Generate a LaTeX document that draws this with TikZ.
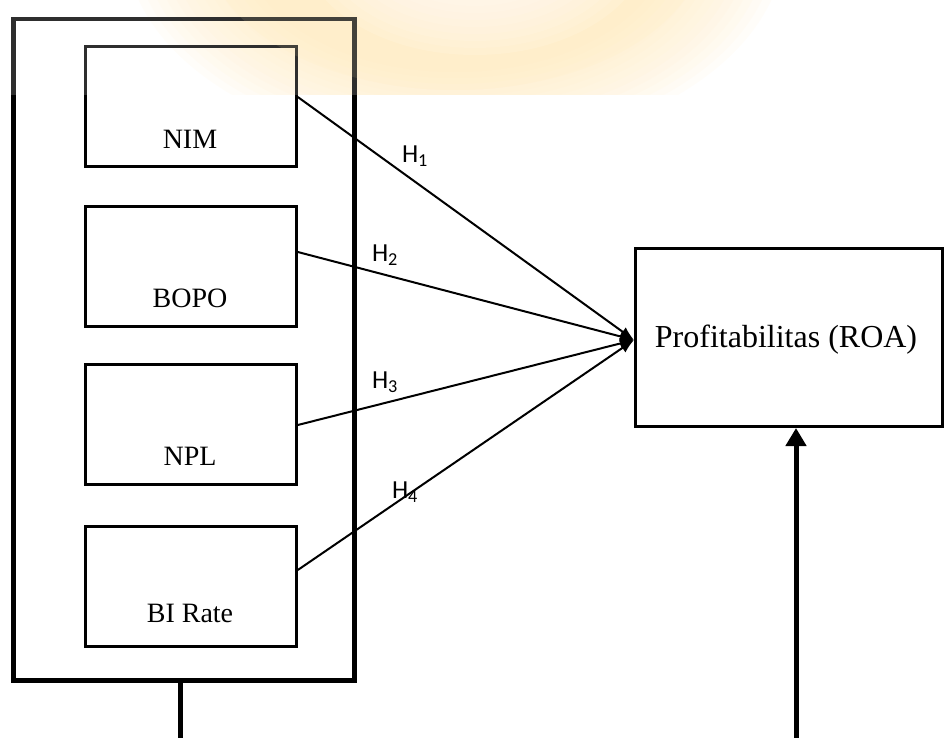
\documentclass[tikz,border=0pt]{standalone}
\usepackage{fontspec}
\setmainfont{Liberation Serif}
\newfontfamily\calfont{Carlito}
\usetikzlibrary{arrows.meta}
\definecolor{glowcol}{HTML}{FFEAB0}
\tikzset{
  inbox/.style={draw, line width=2.8pt, minimum width=211pt, minimum height=120pt, inner sep=0pt, anchor=north west},
  outerbox/.style={draw, line width=4.5pt, minimum width=341pt, minimum height=661pt, inner sep=0pt, anchor=north west},
  roabox/.style={draw, line width=3pt, minimum width=307pt, minimum height=178pt, inner sep=0pt, anchor=north west},
  lbl/.style={font=\fontsize{28}{32}\selectfont, inner sep=0pt},
  hlbl/.style={font=\calfont\fontsize{26}{30}\selectfont, inner sep=0pt},
  conn/.style={line width=2pt, -{Latex[length=14pt,width=11pt]}},
  thick5/.style={line width=5pt}
}
\begin{document}
\begin{tikzpicture}[x=1pt,y=-1pt]
\useasboundingbox (0,0) rectangle (945,738);
\fill[white] (0,0) rectangle (945,738);
% watermark glow
\begin{scope}
\clip (0,0) rectangle (945,95);
\foreach \k in {0,...,13}{
  \fill[glowcol, opacity=0.08] (455,-60) ellipse [x radius={330-9*\k}, y radius={210-6*\k}];
}
\foreach \k in {0,...,7}{
  \fill[white, opacity=0.13] (475,-60) ellipse [x radius={175-10*\k}, y radius={115-7*\k}];
}
\end{scope}
% boxes
\node[outerbox] (outer) at (11,17) {};
\node[inbox] (nim) at (84,45) {};
\node[inbox] (bopo) at (84,205) {};
\node[inbox] (npl) at (84,363) {};
\node[inbox] (bi) at (84,525) {};
\node[roabox] (roa) at (634,247) {};
% texts
\node[lbl] (tnim) at (190,139) {NIM};
\node[lbl] (tbopo) at (190,298) {BOPO};
\node[lbl] (tnpl) at (190,456) {NPL};
\node[lbl] (tbi) at (190,613) {BI Rate};
\node[lbl, font=\fontsize{32}{36}\selectfont] (troa) at (786,340) {Profitabilitas (ROA)};
% connectors
\coordinate (tip) at (634,340);
\draw[conn] ([yshift=-52pt]nim.north east) -- (tip);
\draw[conn] ([yshift=-47pt]bopo.north east) -- (tip);
\draw[conn] ([yshift=-62pt]npl.north east) -- (tip);
\draw[conn] ([yshift=-45pt]bi.north east) -- (tip);
\node[hlbl] (h1) at (415,156) {H\textsubscript{1}};
\node[hlbl] (h2) at (385,255) {H\textsubscript{2}};
\node[hlbl] (h3) at (385,382) {H\textsubscript{3}};
\node[hlbl] (h4) at (405,492) {H\textsubscript{4}};
% bottom lines
\coordinate (bl) at (180,738);
\draw[thick5] (outer.south -| bl) -- (bl);
\coordinate (br) at (796,738);
\draw[thick5, -{Triangle[length=18pt,width=20pt]}] (br) -- (br |- roa.south);
% faded band overlay
\fill[white, opacity=0.18] (0,0) rectangle (945,95);
\fill[glowcol, opacity=0.1] (455,-60) ellipse [x radius=250, y radius=150];
\end{tikzpicture}
\end{document}
